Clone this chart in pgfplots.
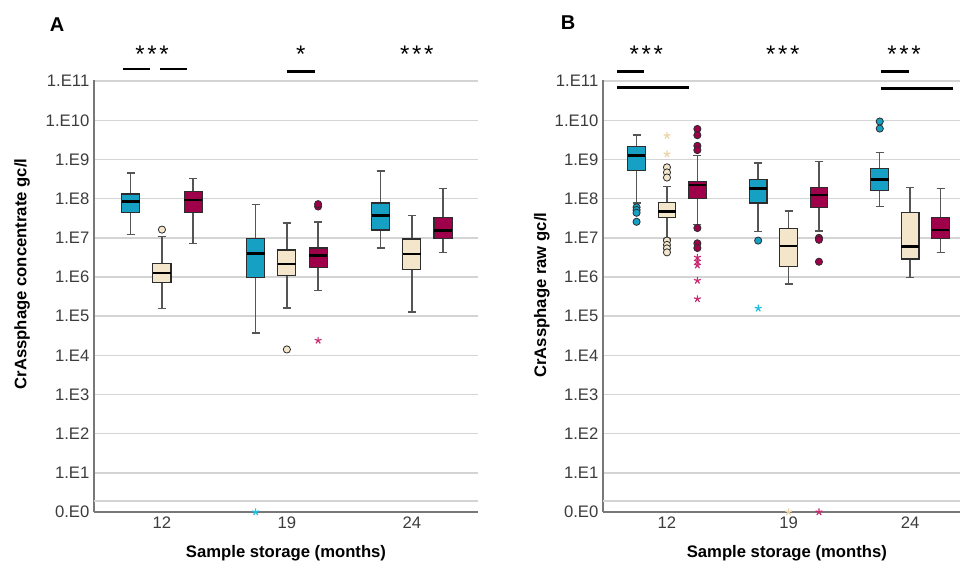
\documentclass[border=0pt]{standalone}
\usepackage{pgfplots}
\pgfplotsset{compat=1.18}
\usepgfplotslibrary{statistics}
\usepackage{fontspec}
\setmainfont{Liberation Sans}
\setsansfont{Liberation Sans}
\definecolor{cblue}{RGB}{22,160,196}
\definecolor{ccream}{RGB}{243,230,203}
\definecolor{cred}{RGB}{158,0,74}
\definecolor{boxd}{RGB}{45,45,45}
\definecolor{whisk}{RGB}{85,85,85}
\definecolor{gridc}{RGB}{212,212,212}
\definecolor{axc}{RGB}{120,120,120}
\definecolor{tickc}{RGB}{60,60,60}
\definecolor{starred}{RGB}{200,40,110}
\definecolor{starcream}{RGB}{235,212,170}
\definecolor{starcyan}{RGB}{30,190,225}
\pgfplotsset{
  base/.style={
    scale only axis, height=324pt, ymin=0, ymax=11.03,
    axis lines=left, axis line style={-, draw=axc, line width=1pt},
    xtick={0,1,2}, xticklabels={12,19,24},
    ytick={0,...,11},
    yticklabels={0.E0,1.E1,1.E2,1.E3,1.E4,1.E5,1.E6,1.E7,1.E8,1.E9,1.E10,1.E11},
    extra y ticks={0.28}, extra y tick labels={}, extra y tick style={grid=major},
    major tick length=0pt,
    ymajorgrids, grid style={draw=gridc, line width=1.1pt},
    /pgf/number format/assume math mode=true,
    tick label style={font=\fontsize{12.5}{15}\selectfont, text=tickc},
    label style={font=\bfseries\fontsize{12.5}{15}\selectfont},
    clip=false,
  },
  bxs/.style={boxplot/draw direction=y, boxplot/box extend=0.145,
    boxplot/whisker extend=0.065,
    boxplot/every median/.style={draw=black, line width=1.8pt},
    boxplot/every whisker/.style={draw=whisk, line width=1.1pt},
    boxplot/every box/.style={draw=boxd, line width=0.8pt}},
  bb/.style={bxs, draw=boxd, fill=cblue},
  bc/.style={bxs, draw=boxd, fill=ccream},
  br/.style={bxs, draw=boxd, fill=cred},
  oc/.style={only marks, mark=*, mark size=2.7pt, mark options={fill=#1, draw=boxd, line width=0.6pt}},
  os/.style={only marks, mark=star, mark size=2.7pt, mark options={draw=#1, line width=0.9pt}},
}
\newcommand{\stars}[1]{\fontsize{18}{20}\selectfont #1}
\begin{document}
\begin{tikzpicture}
\useasboundingbox (0,0) rectangle (720pt,428.25pt);
% ---------------- Panel A ----------------
\begin{axis}[base, at={(70.5pt,44.25pt)}, anchor=south west,
  width=288pt, xmin=-0.544, xmax=2.53,
  ylabel={CrAssphage concentrate gc/l},
  ylabel style={at={(axis description cs:-0.1875,0.551)}, anchor=center},
  xlabel={Sample storage (months)},
  xlabel style={at={(axis description cs:0.5,-0.095)}, anchor=center}]
% 12
\addplot[bb, boxplot prepared={draw position=-0.25, lower whisker=7.08, lower quartile=7.64, median=7.93, upper quartile=8.12, upper whisker=8.65}] coordinates {};
\addplot[bc, boxplot prepared={draw position=0, lower whisker=5.20, lower quartile=5.87, median=6.10, upper quartile=6.35, upper whisker=7.04}] coordinates {};
\addplot[br, boxplot prepared={draw position=0.25, lower whisker=6.85, lower quartile=7.65, median=7.97, upper quartile=8.19, upper whisker=8.51}] coordinates {};
\addplot[oc=ccream] coordinates {(0,7.21)};
% 19
\addplot[bb, boxplot prepared={draw position=0.75, lower whisker=4.57, lower quartile=5.99, median=6.60, upper quartile=6.99, upper whisker=7.85}] coordinates {};
\addplot[bc, boxplot prepared={draw position=1, lower whisker=5.21, lower quartile=6.03, median=6.33, upper quartile=6.69, upper whisker=7.38}] coordinates {};
\addplot[br, boxplot prepared={draw position=1.25, lower whisker=5.65, lower quartile=6.25, median=6.55, upper quartile=6.74, upper whisker=7.40}] coordinates {};
\addplot[oc=ccream] coordinates {(1,4.15)};
\addplot[oc=cred] coordinates {(1.25,7.80) (1.25,7.86)};
\addplot[os=starred] coordinates {(1.25,4.38)};
\addplot[os=starcyan] coordinates {(0.75,0)};
% 24
\addplot[bb, boxplot prepared={draw position=1.75, lower whisker=6.74, lower quartile=7.20, median=7.57, upper quartile=7.89, upper whisker=8.71}] coordinates {};
\addplot[bc, boxplot prepared={draw position=2, lower whisker=5.11, lower quartile=6.19, median=6.58, upper quartile=6.97, upper whisker=7.57}] coordinates {};
\addplot[br, boxplot prepared={draw position=2.25, lower whisker=6.62, lower quartile=6.98, median=7.19, upper quartile=7.52, upper whisker=8.26}] coordinates {};
% significance
\draw[line width=2.2pt] (axis cs:-0.312,11.31) -- (axis cs:-0.096,11.31);
\draw[line width=2.2pt] (axis cs:-0.016,11.31) -- (axis cs:0.2,11.31);
\draw[line width=2.2pt] (axis cs:1,11.25) -- (axis cs:1.224,11.25);
\node[anchor=base] at (axis cs:-0.08,11.47) {\stars{*\hspace{2pt}*\hspace{2pt}*}};
\node[anchor=base] at (axis cs:1.112,11.47) {\stars{*}};
\node[anchor=base] at (axis cs:2.04,11.47) {\stars{*\hspace{2pt}*\hspace{2pt}*}};
\end{axis}
% ---------------- Panel B ----------------
\begin{axis}[base, at={(452.25pt,44.25pt)}, anchor=south west,
  width=267.75pt, xmin=-0.526, xmax=2.41,
  ylabel={CrAssphage raw gc/l},
  ylabel style={at={(axis description cs:-0.171,0.502)}, anchor=center},
  xlabel={Sample storage (months)},
  xlabel style={at={(axis description cs:0.515,-0.095)}, anchor=center}]
% 12
\addplot[bb, boxplot prepared={draw position=-0.25, lower whisker=7.89, lower quartile=8.73, median=9.10, upper quartile=9.33, upper whisker=9.63}] coordinates {};
\addplot[bc, boxplot prepared={draw position=0, lower whisker=6.97, lower quartile=7.52, median=7.67, upper quartile=7.91, upper whisker=8.31}] coordinates {};
\addplot[br, boxplot prepared={draw position=0.25, lower whisker=7.34, lower quartile=8.01, median=8.35, upper quartile=8.45, upper whisker=9.10}] coordinates {};
\addplot[oc=cblue] coordinates {(-0.25,7.78) (-0.25,7.71) (-0.25,7.64) (-0.25,7.41)};
\addplot[oc=ccream] coordinates {(0,8.80) (0,8.67) (0,8.54) (0,6.93) (0,6.82) (0,6.73) (0,6.63)};
\addplot[os=starcream] coordinates {(0,9.61) (0,9.14)};
\addplot[oc=cred] coordinates {(0.25,9.78) (0.25,9.62) (0.25,9.35) (0.25,9.24) (0.25,7.25) (0.25,6.86) (0.25,6.74)};
\addplot[os=starred] coordinates {(0.25,6.50) (0.25,6.40) (0.25,6.30) (0.25,5.91) (0.25,5.44)};
% 19
\addplot[bb, boxplot prepared={draw position=0.75, lower whisker=7.16, lower quartile=7.89, median=8.26, upper quartile=8.48, upper whisker=8.91}] coordinates {};
\addplot[bc, boxplot prepared={draw position=1, lower whisker=5.82, lower quartile=6.27, median=6.79, upper quartile=7.23, upper whisker=7.69}] coordinates {};
\addplot[br, boxplot prepared={draw position=1.25, lower whisker=7.18, lower quartile=7.78, median=8.09, upper quartile=8.29, upper whisker=8.95}] coordinates {};
\addplot[oc=cblue] coordinates {(0.75,6.93)};
\addplot[os=starcyan] coordinates {(0.75,5.20)};
\addplot[oc=cred] coordinates {(1.25,7.00) (1.25,6.95) (1.25,6.39)};
\addplot[os=starcream] coordinates {(1,0)};
\addplot[os=starred] coordinates {(1.25,0)};
% 24
\addplot[bb, boxplot prepared={draw position=1.75, lower whisker=7.80, lower quartile=8.20, median=8.49, upper quartile=8.78, upper whisker=9.18}] coordinates {};
\addplot[bc, boxplot prepared={draw position=2, lower whisker=5.99, lower quartile=6.46, median=6.78, upper quartile=7.65, upper whisker=8.29}] coordinates {};
\addplot[br, boxplot prepared={draw position=2.25, lower whisker=6.63, lower quartile=6.99, median=7.20, upper quartile=7.52, upper whisker=8.26}] coordinates {};
\addplot[oc=cblue] coordinates {(1.75,9.97) (1.75,9.79)};
% significance
\draw[line width=2.2pt] (axis cs:-0.41,11.25) -- (axis cs:-0.19,11.25);
\draw[line width=2.2pt] (axis cs:-0.41,10.85) -- (axis cs:0.18,10.85);
\draw[line width=2.2pt] (axis cs:1.76,11.25) -- (axis cs:1.99,11.25);
\draw[line width=2.2pt] (axis cs:1.76,10.82) -- (axis cs:2.35,10.82);
\node[anchor=base] at (axis cs:-0.17,11.47) {\stars{*\hspace{2pt}*\hspace{2pt}*}};
\node[anchor=base] at (axis cs:0.953,11.47) {\stars{*\hspace{2pt}*\hspace{2pt}*}};
\node[anchor=base] at (axis cs:1.95,11.47) {\stars{*\hspace{2pt}*\hspace{2pt}*}};
\end{axis}
\node[font=\bfseries\fontsize{15}{18}\selectfont] at (42.75pt,409.5pt) {A};
\node[font=\bfseries\fontsize{15}{18}\selectfont] at (426pt,411pt) {B};
\end{tikzpicture}
\end{document}
